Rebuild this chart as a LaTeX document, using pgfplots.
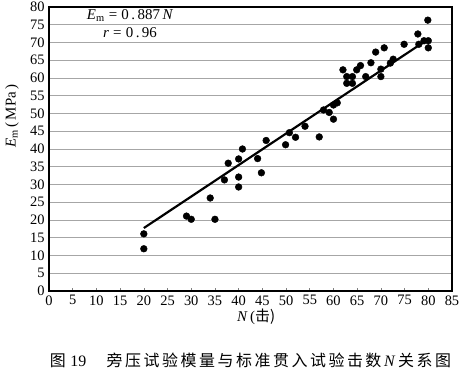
\documentclass[border=0pt]{standalone}
\usepackage{fontspec}
\setmainfont{Liberation Serif}
\newfontfamily\cjk{Noto Sans CJK SC}
\newfontfamily\cjkcap[LetterSpace=16]{Noto Sans CJK SC}
\usepackage{pgfplots}
\pgfplotsset{compat=1.18}
\begin{document}
\begin{tikzpicture}
\useasboundingbox (-49bp,-90bp) rectangle (416bp,291bp);
\begin{axis}[
  scale only axis, width=403bp, height=284bp,
  xmin=0, xmax=85, ymin=0, ymax=80,
  xtick={0,5,...,85}, ytick={0,5,...,80},
  ymajorgrids, grid style={gray!70, line width=0.8pt},
  axis line style={line width=1.3pt},
  xtick pos=bottom, ytick pos=left,
  tick align=inside, major tick length=3bp,
  ytick style={draw=none},
  xtick style={line width=0.6pt},
  tick label style={font=\fontsize{14.5}{14.5}\selectfont},
  /pgf/number format/assume math mode=true,
  xticklabel style={yshift=-1bp},
  yticklabel style={xshift=-1bp},
  xlabel={\fontsize{15}{15}\selectfont\textit{N}\,(\cjk 击)},
  xlabel style={at={(axis description cs:0.514,-0.092)}, anchor=center},
  ylabel={\fontsize{15}{15}\selectfont\textit{E}\textsubscript{m}\,(\,MPa\,)},
  ylabel style={at={(axis description cs:-0.092,0.616)}, anchor=center},
  clip=false,
]
\addplot[only marks, mark=*, mark size=3.4bp, mark options={fill=black, draw=black}] coordinates {
(20,16.1) (20,11.9) (29,21.1) (30,20.2) (34,26.2) (35,20.2)
(37,31.3) (37.8,36.0) (40,37.2) (40,32.1) (40,29.3) (40.8,40.0)
(44,37.3) (44.8,33.3) (45.8,42.4) (49.9,41.2) (50.7,44.6) (52,43.3)
(54,46.4) (57,43.4) (57.9,51.0) (59.1,50.3) (60,48.4) (60,52.4) (60.8,53.0)
(62,62.3) (62.8,60.4) (64,60.4) (62.8,58.5) (64,58.5) (64.9,62.3) (65.7,63.5)
(66.8,60.4) (67.9,64.3) (68.9,67.3) (70,60.4) (70,62.5) (70.7,68.5)
(72,64.2) (72.6,65.3) (74.9,69.5) (77.8,72.4) (78,69.5) (79.9,76.3)
(79.1,70.5) (80,70.5) (80,68.5)
};
\addplot[black, line width=2.2pt] coordinates {(20,17.74) (80,70.96)};
\node[font=\fontsize{15}{15}\selectfont] at (axis cs:17.1,77.7) {\textit{E}\textsubscript{m}\;=\;0\,.\,887\,\textit{N}};
\node[font=\fontsize{15}{15}\selectfont] at (axis cs:17.1,72.8) {\textit{r}\;=\;0\,.\,96};
\node[font=\fontsize{16}{16}\selectfont] at (axis description cs:0.5,-0.243) {{\cjkcap 图}\;19\quad\;{\cjkcap 旁压试验模量与标准贯入试验击数}\,\textit{N}\,{\cjkcap 关系图}};
\end{axis}
\end{tikzpicture}
\end{document}
